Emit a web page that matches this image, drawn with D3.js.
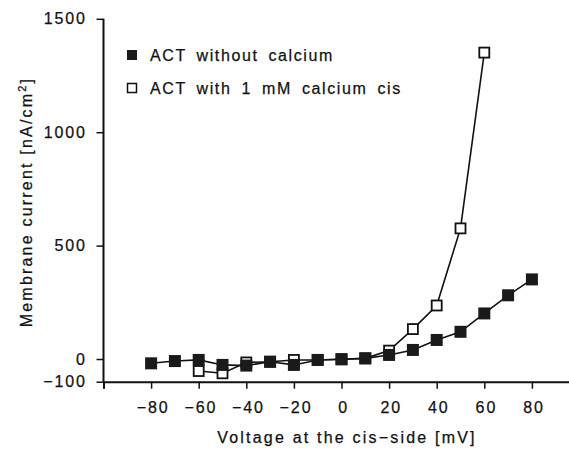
<!DOCTYPE html>
<html>
<head>
<meta charset="utf-8">
<script src="https://cdn.jsdelivr.net/npm/d3@7"></script>
<style>
    body { margin: 0; background: #fff; }
    text { font-family: "Liberation Sans", Arial, sans-serif; fill: #111; stroke: #111; stroke-width: 0.25px; }
    .tick-label { font-size: 16px; letter-spacing: 1.9px; }
    .axis-title { font-size: 16px; letter-spacing: 2.2px; }
    .legend-text { font-size: 16px; letter-spacing: 1.6px; word-spacing: 4px; }
</style>
</head>
<body>
<div id="chart"></div>
<script>
(function() {
    var width = 569,
        height = 449;

    // data
    var voltage = [-80, -70, -60, -50, -40, -30, -20, -10, 0, 10, 20, 30, 40, 50, 60, 70, 80];
    var noCalcium = [-19, -9, -4, -26, -29, -12, -26, -4, -1, 3, 18, 40, 84, 120, 201, 281, 351];
    var voltageCa = [-60, -50, -40, -30, -20, -10, 0, 10, 20, 30, 40, 50, 60];
    var withCalcium = [-53, -63, -15, -12, -4, -4, -1, 3, 37, 132, 236, 576, 1351];
    var xTicks = [-80, -60, -40, -20, 0, 20, 40, 60, 80];
    var yTicks = [-100, 0, 500, 1000, 1500];
    var seriesNames = ['ACT without calcium', 'ACT with 1 mM calcium cis'];

    var x = d3.scaleLinear().domain([-100, 100]).range([103.5, 579.5]),
        y = d3.scaleLinear().domain([-100, 1500]).range([381.7, 18.8]);

    var svg = d3.select('#chart').append('svg')
        .attr('width', width)
        .attr('height', height);

    // y axis
    var yAxis = svg.append('g')
        .attr('transform', 'translate(' + x(-100) + ',0)')
        .call(d3.axisLeft(y).tickValues(yTicks).tickSize(7).tickPadding(12)
            .tickFormat(function(d) { return d < 0 ? '\u2212' + Math.abs(d) : d; }));

    // x axis
    var xAxis = svg.append('g')
        .attr('transform', 'translate(0,' + y(-100) + ')')
        .call(d3.axisBottom(x).tickValues([-100].concat(xTicks)).tickSize(7).tickPadding(13)
            .tickFormat(function(d) { return d == -100 ? '' : (d < 0 ? '\u2212' + Math.abs(d) : d); }));

    [xAxis, yAxis].forEach(function(ax) {
        ax.select('.domain').attr('stroke', '#111').attr('stroke-width', 2);
        ax.selectAll('.tick line').attr('stroke', '#111').attr('stroke-width', 1.5);
        ax.selectAll('.tick text')
            .attr('class', 'tick-label')
            .attr('font-family', null)
            .attr('font-size', null)
            .attr('fill', '#111');
    });
    yAxis.select('.domain').attr('d', 'M0,' + y(1500) + 'V' + y(-100));
    xAxis.selectAll('.tick text').attr('dx', '0.1em');
    yAxis.selectAll('.tick text').attr('dx', '0.15em');

    // axis titles
    svg.append('text')
        .attr('class', 'axis-title')
        .attr('x', 347)
        .attr('y', 443)
        .attr('text-anchor', 'middle')
        .text('Voltage at the cis\u2212side [mV]');

    var ytitle = svg.append('text')
        .attr('class', 'axis-title')
        .attr('transform', 'translate(32,202) rotate(-90)')
        .attr('text-anchor', 'middle');
    ytitle.append('tspan').text('Membrane current [nA/cm');
    ytitle.append('tspan').attr('dy', -6).attr('font-size', 11).text('2');
    ytitle.append('tspan').attr('dy', 6).text(']');

    var line = d3.line()
        .x(function(d) { return x(d[0]); })
        .y(function(d) { return y(d[1]); });

    var filledPts = d3.zip(voltage, noCalcium),
        openPts = d3.zip(voltageCa, withCalcium);

    // with calcium (open squares)
    svg.append('path')
        .attr('d', line(openPts))
        .attr('fill', 'none')
        .attr('stroke', '#111')
        .attr('stroke-width', 1.6);
    svg.selectAll('.open').data(openPts).enter().append('rect')
        .attr('x', function(d) { return x(d[0]) - 5; })
        .attr('y', function(d) { return y(d[1]) - 5; })
        .attr('width', 10)
        .attr('height', 10)
        .attr('fill', '#fff')
        .attr('stroke', '#111')
        .attr('stroke-width', 1.8);

    // without calcium (filled squares)
    svg.append('path')
        .attr('d', line(filledPts))
        .attr('fill', 'none')
        .attr('stroke', '#111')
        .attr('stroke-width', 1.6);
    svg.selectAll('.filled').data(filledPts).enter().append('rect')
        .attr('x', function(d) { return x(d[0]) - 6; })
        .attr('y', function(d) { return y(d[1]) - 6; })
        .attr('width', 12)
        .attr('height', 12)
        .attr('fill', '#1a1a1a');

    // legend
    var legend = svg.append('g');
    legend.append('rect')
        .attr('x', 127).attr('y', 50).attr('width', 10).attr('height', 10)
        .attr('fill', '#1a1a1a');
    legend.append('rect')
        .attr('x', 127.5).attr('y', 83.5).attr('width', 9).attr('height', 9)
        .attr('fill', '#fff').attr('stroke', '#111').attr('stroke-width', 1.5);
    legend.selectAll('text').data(seriesNames).enter().append('text')
        .attr('class', 'legend-text')
        .attr('x', 150)
        .attr('y', function(d, i) { return 61 + i * 33; })
        .text(function(d) { return d; });
})();
</script>
</body>
</html>
